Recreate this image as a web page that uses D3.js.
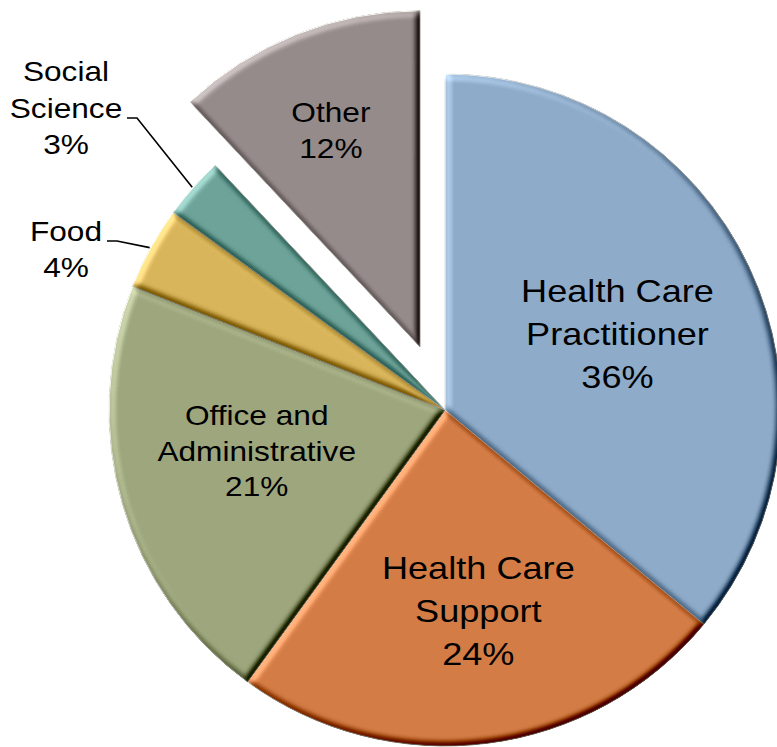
<!DOCTYPE html>
<html>
<head>
<meta charset="utf-8">
<script src="https://cdn.jsdelivr.net/npm/d3@7"></script>
<style>
  html, body { margin: 0; padding: 0; background: #ffffff; }
  svg { display: block; }
  text { font-family: "Liberation Sans", Arial, sans-serif; fill: #000; }
</style>
</head>
<body>
<div id="chart"></div>
<script>
// ---- data ----
const categories = ["Health Care Practitioner", "Health Care Support", "Office and Administrative", "Food", "Social Science", "Other"];
const values = [36, 24, 21, 4, 3, 12];
const labelLines = [["Health Care", "Practitioner"], ["Health Care", "Support"], ["Office and", "Administrative"], ["Food"], ["Social", "Science"], ["Other"]];
const colors = ["#8eacca", "#d47c46", "#9ea67d", "#d8b45b", "#6ea39a", "#958b8a"];

// ---- layout ----
const W = 777, H = 747;
const cx = 445, cy = 410, R = 336;
const explode = { "Other": 68 };
const bigFont = { "Health Care Practitioner": true, "Health Care Support": true };
const inside = {
  "Health Care Practitioner": { r: 185, da: 0.07, dy: 2 },
  "Health Care Support": { r: 215, da: -0.03, dy: 0 },
  "Office and Administrative": { r: 195, da: 0.02, dy: 0 },
  "Other": { r: 225, da: -0.03, dy: 0 }
};
const outside = {
  "Food": { textX: 66, lineY: 241, elbowX: 117, endX: 107 },
  "Social Science": { textX: 66, lineY: 118, elbowX: 137, endX: 127 }
};

const data = categories.map((c, i) => ({ cat: c, value: values[i], lines: labelLines[i], color: colors[i] }));

const svg = d3.select("#chart").append("svg").attr("width", W).attr("height", H);
const defs = svg.append("defs");
const f = defs.append("filter").attr("id", "bevel")
  .attr("x", "-10%").attr("y", "-10%").attr("width", "120%").attr("height", "120%")
  .attr("color-interpolation-filters", "sRGB");
f.append("feGaussianBlur").attr("in", "SourceAlpha").attr("stdDeviation", 3.5).attr("result", "blur");
f.append("feDiffuseLighting").attr("in", "blur").attr("surfaceScale", 6).attr("diffuseConstant", 1)
  .attr("lighting-color", "#ffffff").attr("result", "diff")
  .append("feDistantLight").attr("azimuth", 225).attr("elevation", 45);
f.append("feComposite").attr("in", "SourceGraphic").attr("in2", "diff").attr("operator", "arithmetic")
  .attr("k1", 0).attr("k2", 1).attr("k3", 0.75).attr("k4", -0.75 * 0.7071).attr("result", "lit");
f.append("feComposite").attr("in", "lit").attr("in2", "SourceAlpha").attr("operator", "in");

const pie = d3.pie().sort(null).value(d => d.value).startAngle(0).endAngle(2 * Math.PI);
const arcs = pie(data);
const arc = d3.arc().innerRadius(0).outerRadius(R);

const g = svg.append("g").attr("transform", `translate(${cx},${cy})`);

function offset(d) {
  const e = explode[d.data.cat] || 0;
  const a = (d.startAngle + d.endAngle) / 2;
  return [e * Math.sin(a), -e * Math.cos(a)];
}

g.selectAll("path.slice").data(arcs).join("path")
  .attr("class", "slice")
  .attr("d", arc)
  .attr("transform", d => { const o = offset(d); return `translate(${o[0]},${o[1]})`; })
  .attr("fill", d => d.data.color)
  .attr("stroke", "#f2f2ea")
  .attr("stroke-width", 0.8)
  .attr("filter", "url(#bevel)");

const fmt = d => Math.round(d.value) + "%";

// inside labels
arcs.filter(d => inside[d.data.cat]).forEach(d => {
  const p = inside[d.data.cat];
  const o = offset(d);
  const a = (d.startAngle + d.endAngle) / 2 + p.da;
  const x = o[0] + p.r * Math.sin(a), y = o[1] - p.r * Math.cos(a) + p.dy;
  const big = !!bigFont[d.data.cat];
  const fs = big ? 32 : 28, lh = big ? 43 : 35.5;
  const lines = d.data.lines.concat([fmt(d.data)]);
  const t = g.append("text")
    .attr("transform", `translate(${x},${y}) scale(1.13,1)`)
    .attr("text-anchor", "middle").style("font-size", fs + "px");
  const y0 = -((lines.length - 1) * lh) / 2;
  lines.forEach((ln, i) => t.append("tspan").attr("x", 0).attr("y", y0 + i * lh).text(ln));
});

// outside labels with leader lines
arcs.filter(d => outside[d.data.cat]).forEach(d => {
  const p = outside[d.data.cat];
  const a = (d.startAngle + d.endAngle) / 2;
  const px = cx + (R + 1) * Math.sin(a), py = cy - (R + 1) * Math.cos(a);
  svg.append("path")
    .attr("d", d3.line()([[p.endX, p.lineY], [p.elbowX, p.lineY], [px, py]]))
    .attr("fill", "none").attr("stroke", "#000").attr("stroke-width", 1.6);
  const lines = d.data.lines.concat([fmt(d.data)]);
  const nName = d.data.lines.length;
  const lh = 36.5;
  const t = svg.append("text")
    .attr("transform", `translate(${p.textX},0) scale(1.13,1)`)
    .attr("text-anchor", "middle").style("font-size", "28px");
  lines.forEach((ln, i) => t.append("tspan").attr("x", 0).attr("y", p.lineY + (i - (nName - 1)) * lh).text(ln));
});
</script>
</body>
</html>
